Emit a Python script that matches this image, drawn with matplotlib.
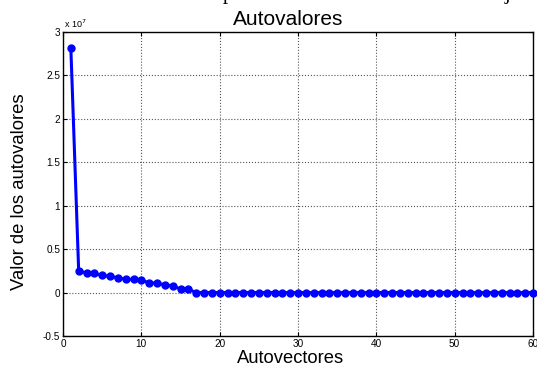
import matplotlib
matplotlib.use("Agg")
import matplotlib.pyplot as plt
import numpy as np

plt.rcParams['font.family'] = ['Liberation Sans', 'DejaVu Sans']

autovectores = list(range(1, 61))
autovalores_e7 = [2.82, 0.252, 0.225, 0.221, 0.198, 0.186, 0.171, 0.155, 0.151, 0.143,
                  0.112, 0.109, 0.089, 0.078, 0.039, 0.039] + [0.0] * 44
autovalores = [v * 1e7 for v in autovalores_e7]

x_ticks = [0, 10, 20, 30, 40, 50, 60]
y_ticks_e7 = [-0.5, 0, 0.5, 1, 1.5, 2, 2.5, 3]
y_ticklabels = ['-0.5', '0', '0.5', '1', '1.5', '2', '2.5', '3']

fig = plt.figure(figsize=(5.37, 3.67), dpi=100)
ax = fig.add_axes([63/537, 1 - 336/367, (533-63)/537, (336-32)/367])

ax.plot(autovectores, autovalores, color='#0000ff', linewidth=2.2,
        marker='o', markersize=5, markerfacecolor='#0000ff', markeredgecolor='#0000ff',
        clip_on=False, zorder=3)

ax.set_xlim(0, 60)
ax.set_ylim(-0.5e7, 3e7)
ax.set_xticks(x_ticks)
ax.set_xticklabels([str(t) for t in x_ticks], fontsize=7.2)
ax.set_yticks([v * 1e7 for v in y_ticks_e7])
ax.set_yticklabels(y_ticklabels, fontsize=7.2)
ax.tick_params(direction='in', top=True, right=True, length=3, width=0.8, pad=2)

ax.grid(True, color='#555555', linestyle=':', linewidth=0.8)
ax.set_axisbelow(True)
for s in ax.spines.values():
    s.set_linewidth(1.0)
    s.set_color('black')

ax.text(0.003, 1.005, r'x 10$^{7}$', transform=ax.transAxes, fontsize=6.5, ha='left', va='bottom')

ax.set_title('Autovalores', fontsize=15, pad=5, x=0.48)
ax.set_xlabel('Autovectores', fontsize=13.2, labelpad=0)
ax.set_ylabel('Valor de los autovalores', fontsize=13.3)
ax.xaxis.set_label_coords(0.484, -0.047, transform=ax.transAxes)
ax.yaxis.set_label_coords(-0.074, 0.474, transform=ax.transAxes)
ax.xaxis.label.set_va('top')
ax.yaxis.label.set_va('bottom')

# fragments of text cut off at the top edge
fig.text(228/537, 1 + 1/367, 'p', family='Liberation Serif', fontsize=15,
         ha='center', va='baseline')
fig.text(507/537, 1 + 1/367, 'j', family='Liberation Serif', fontsize=15,
         ha='center', va='baseline')

fig.savefig('out.png', dpi=100)
